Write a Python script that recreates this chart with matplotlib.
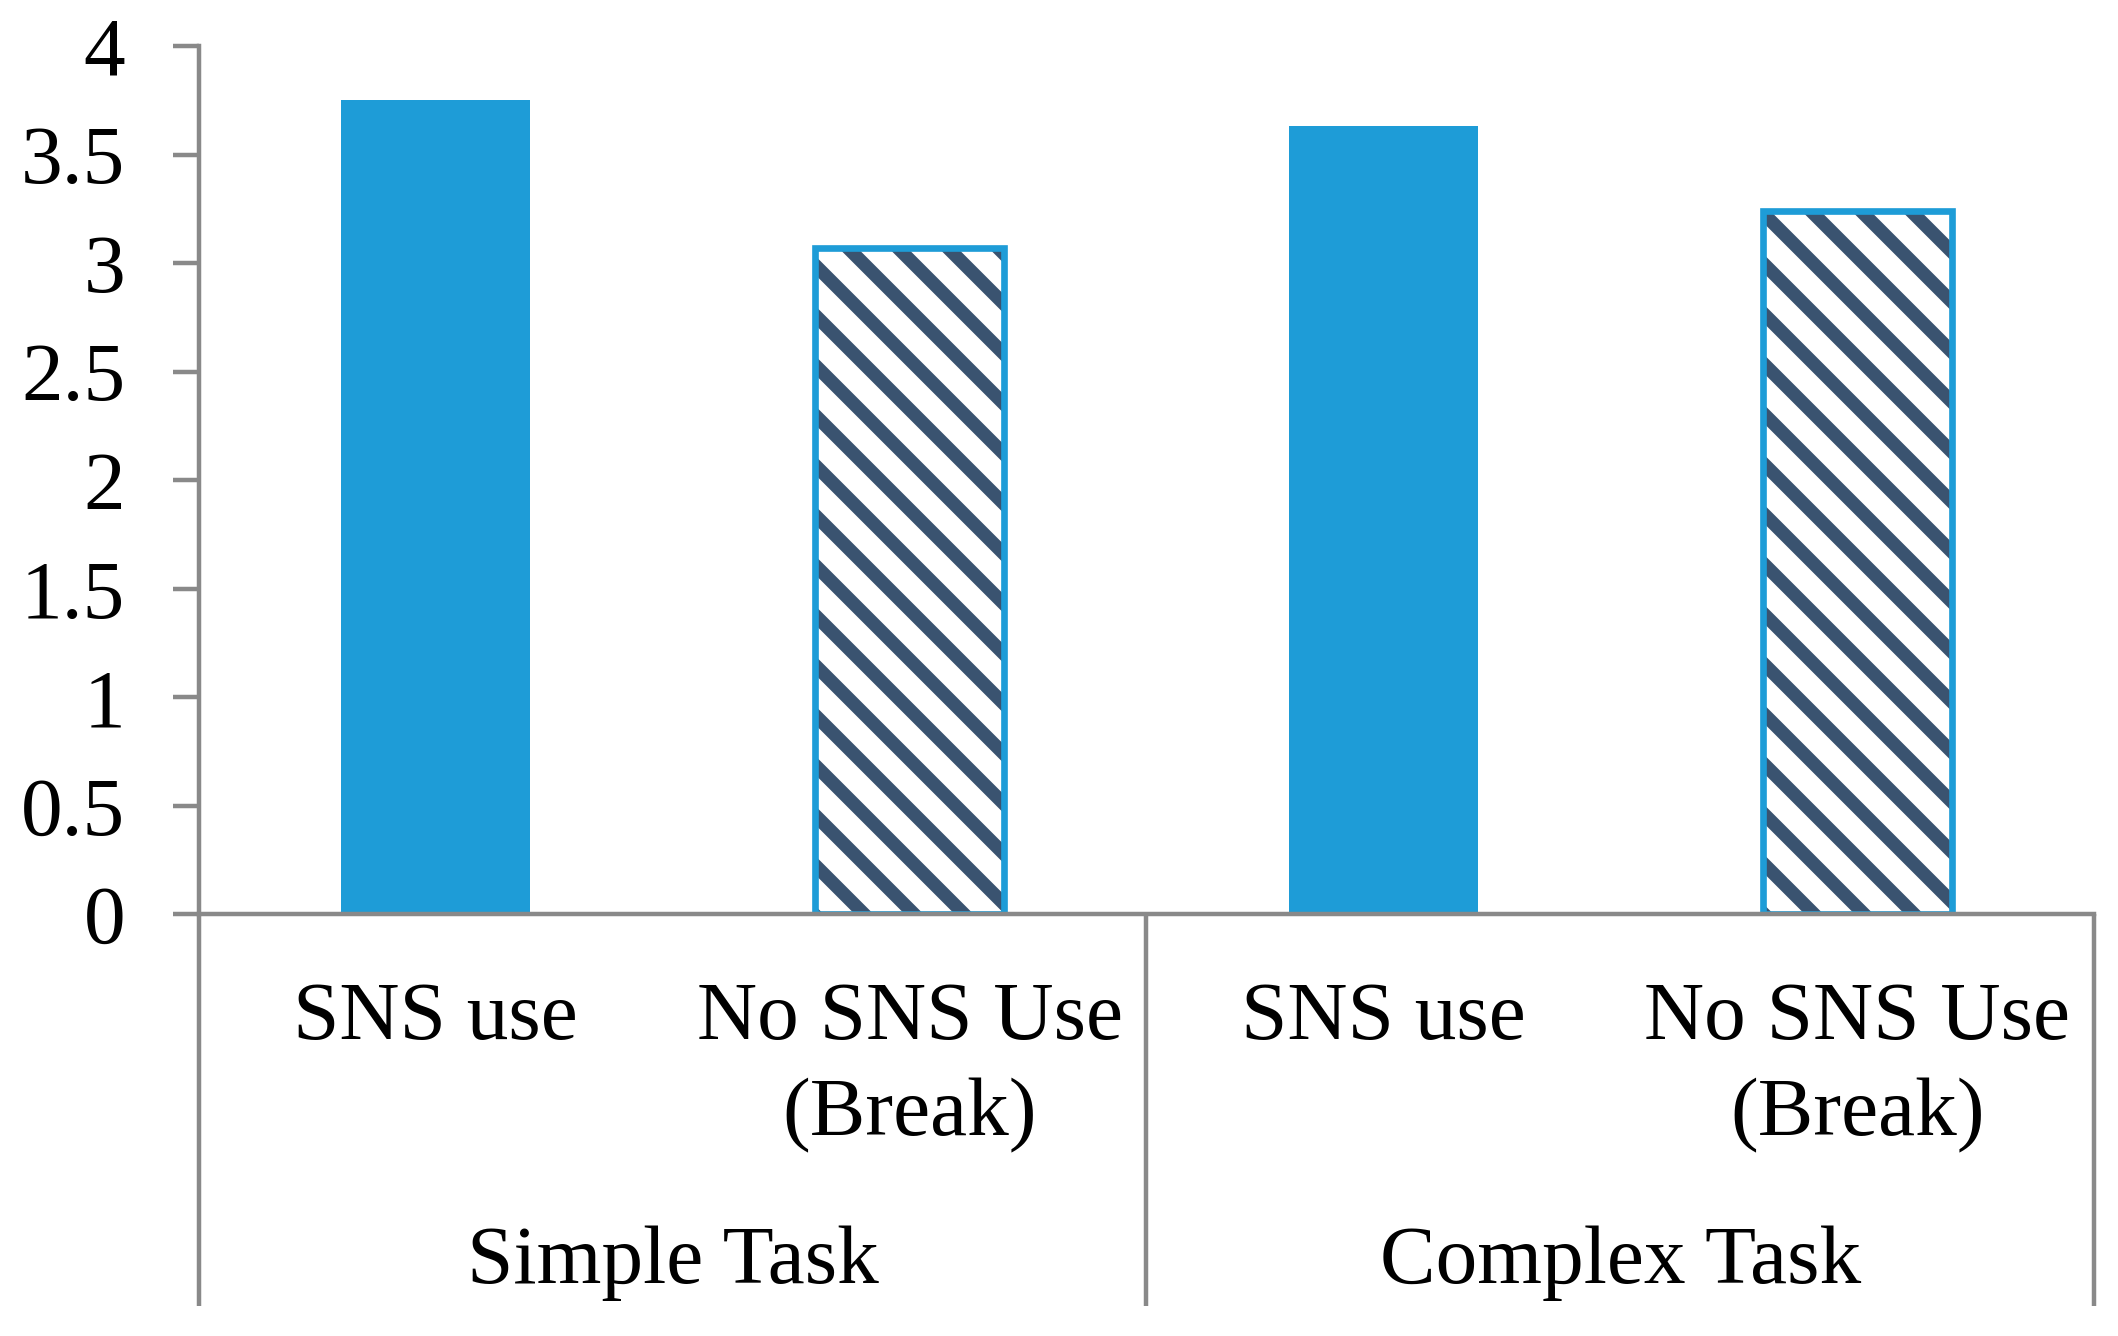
import matplotlib
matplotlib.use("Agg")
import matplotlib.pyplot as plt

# data
bar_labels = ["SNS use", "No SNS Use\n(Break)", "SNS use", "No SNS Use\n(Break)"]
values = [3.75, 3.07, 3.63, 3.24]
hatched = [False, True, False, True]
groups = ["Simple Task", "Complex Task"]
group_pos = [0.5, 2.5]
yticks = [0, 0.5, 1, 1.5, 2, 2.5, 3, 3.5, 4]
ytick_labels = ["0", "0.5", "1", "1.5", "2", "2.5", "3", "3.5", "4"]

BLUE = "#1E9CD7"
HATCH = "#3A5370"
GREY = "#898989"

# rendered at 300 dpi so the hatch spacing matches the wide stripes
plt.rcParams["font.family"] = ["Liberation Serif", "DejaVu Serif"]
plt.rcParams["hatch.linewidth"] = 3.2

fig = plt.figure(figsize=(2118 / 300, 1336 / 300), dpi=300)
ax = fig.add_axes([0.0938, 0.3155, 0.895, 0.650])

for xi, v, h in zip(range(len(values)), values, hatched):
    if h:
        ax.bar(xi, v, width=0.4, color="white", edgecolor=HATCH, hatch="\\\\", linewidth=0)
        ax.bar(xi, v, width=0.4, fill=False, edgecolor=BLUE, linewidth=1.6)
    else:
        ax.bar(xi, v, width=0.4, color=BLUE, linewidth=0)

ax.set_xlim(-0.5, 3.5)
ax.set_ylim(0, 4)
ax.set_yticks(yticks, ytick_labels)
ax.set_xticks([])
ax.tick_params(axis="y", length=6.3, width=1.07, color=GREY, pad=11.3, labelsize=20)
for s in ["top", "right"]:
    ax.spines[s].set_visible(False)
for s in ["left", "bottom"]:
    ax.spines[s].set_color(GREY)
    ax.spines[s].set_linewidth(1.07)

# category separators below the axis
trans = ax.get_xaxis_transform()
for xv in [-0.5, 1.5, 3.5]:
    ax.plot([xv, xv], [0, -0.451], transform=trans, color=GREY, lw=1.07,
            clip_on=False, solid_capstyle="butt")

# two-level category labels
line_y = [-0.1434, -0.2539]
for xi, lab in enumerate(bar_labels):
    for j, line in enumerate(lab.split("\n")):
        ax.text(xi, line_y[j], line, transform=trans, ha="center", va="baseline", fontsize=20)
for gx, g in zip(group_pos, groups):
    ax.text(gx, -0.4243, g, transform=trans, ha="center", va="baseline", fontsize=20)

fig.savefig("out.png", dpi=300)
